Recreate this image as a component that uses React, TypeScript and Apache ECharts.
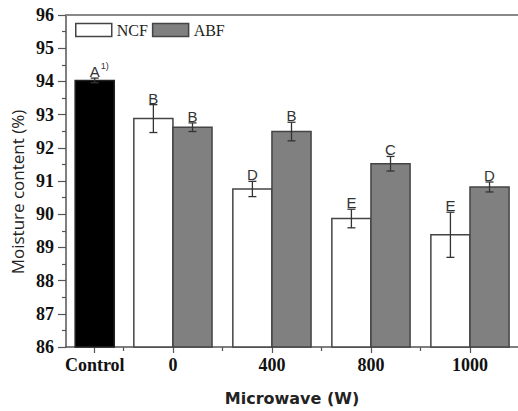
import React, { useEffect, useRef } from "react";
import * as echarts from "echarts";

const categories = ["Control", "0", "400", "800", "1000"];
const controlValues = [94.03];
const controlErrors = [0.07];
const controlLetters = ["A"];
const ncfValues = [92.88, 90.76, 89.87, 89.38];
const ncfErrors = [0.42, 0.23, 0.28, 0.68];
const ncfLetters = ["B", "D", "E", "E"];
const abfValues = [92.62, 92.49, 91.52, 90.82];
const abfErrors = [0.13, 0.28, 0.22, 0.15];
const abfLetters = ["B", "B", "C", "D"];
const yTicks = { min: 86, max: 96, interval: 1 };

// layout: positions of the category slots along the x axis
const catPos = [0.21, 1, 2, 3, 4];
const minorPos = [0.5, 1.5, 2.5, 3.5];
const X_MIN = -0.08;
const X_MAX = 4.485;

function makeRender(shift: number, fill: string, stroke: string, sup: boolean) {
  return (params: any, api: any) => {
    const x = api.value(0);
    const v = api.value(1);
    const e = api.value(2);
    const letter = api.value(3);
    const bw = api.size([1, 0])[0] * 0.395;
    const base = api.coord([x, yTicks.min]);
    const top = api.coord([x, v]);
    const hi = api.coord([x, v + e]);
    const lo = api.coord([x, v - e]);
    const left = base[0] + shift * bw;
    const cx = left + bw / 2;
    const cap = 4;
    const children: any[] = [
      {
        type: "rect",
        shape: { x: left, y: top[1], width: bw, height: base[1] - top[1] },
        style: { fill, stroke, lineWidth: 1.5 },
      },
      {
        type: "line",
        shape: { x1: cx, y1: hi[1], x2: cx, y2: lo[1] },
        style: { stroke: "#333", lineWidth: 1.3 },
      },
      {
        type: "line",
        shape: { x1: cx - cap, y1: hi[1], x2: cx + cap, y2: hi[1] },
        style: { stroke: "#333", lineWidth: 1.3 },
      },
      {
        type: "line",
        shape: { x1: cx - cap, y1: lo[1], x2: cx + cap, y2: lo[1] },
        style: { stroke: "#333", lineWidth: 1.3 },
      },
      {
        type: "text",
        style: {
          text: String(letter),
          x: cx,
          y: hi[1] + 1,
          align: "center",
          verticalAlign: "bottom",
          fill: "#333",
          font: "15px 'Liberation Sans', Arial, sans-serif",
        },
      },
    ];
    if (sup) {
      children.push({
        type: "text",
        style: {
          text: "1)",
          x: cx + 6,
          y: hi[1] - 8,
          align: "left",
          verticalAlign: "bottom",
          fill: "#333",
          font: "9px 'Liberation Sans', Arial, sans-serif",
        },
      });
    }
    return { type: "group", children };
  };
}

export default function App() {
  const ref = useRef<HTMLDivElement>(null);
  useEffect(() => {
    if (!ref.current) return;
    const chart = echarts.init(ref.current, null, { renderer: "svg" });
    const controlData = controlValues.map((v, i) => [catPos[0], v, controlErrors[i], controlLetters[i]]);
    const ncfData = ncfValues.map((v, i) => [catPos[i + 1], v, ncfErrors[i], ncfLetters[i]]);
    const abfData = abfValues.map((v, i) => [catPos[i + 1], v, abfErrors[i], abfLetters[i]]);
    const serif = "'Liberation Serif', 'Times New Roman', serif";
    chart.setOption({
      animation: false,
      backgroundColor: "#fff",
      grid: { left: 66, top: 15, right: 0, bottom: 63 },
      legend: {
        left: 75,
        top: 22,
        itemWidth: 36,
        itemHeight: 13,
        itemGap: 4,
        padding: 0,
        icon: "rect",
        textStyle: { fontFamily: serif, fontSize: 16, color: "#222" },
        data: [
          { name: "NCF", itemStyle: { color: "#fff", borderColor: "#444", borderWidth: 1.5 } },
          { name: "ABF", itemStyle: { color: "#808080", borderColor: "#444", borderWidth: 1.5 } },
        ],
      },
      graphic: [
        {
          type: "text",
          x: 17,
          y: 192,
          rotation: Math.PI / 2,
          style: {
            text: "Moisture content (%)",
            align: "center",
            verticalAlign: "middle",
            fill: "#222",
            font: "17px 'Open Sans', 'Noto Sans', sans-serif",
          },
        },
      ],
      xAxis: [
        {
          type: "value",
          min: X_MIN,
          max: X_MAX,
          position: "bottom",
          name: "Microwave (W)",
          nameLocation: "middle",
          nameGap: 43,
          nameTextStyle: { fontFamily: "'DejaVu Sans', Verdana, sans-serif", fontWeight: "bold", fontSize: 16, color: "#222" },
          axisLine: { show: true, onZero: false, lineStyle: { color: "#555", width: 1.5 } },
          axisTick: { show: true, customValues: catPos, length: 6, lineStyle: { color: "#555", width: 1.2 } },
          axisLabel: {
            customValues: catPos,
            formatter: (v: number) => categories[catPos.indexOf(v)] ?? "",
            fontFamily: serif,
            fontWeight: "bold",
            fontSize: 18,
            color: "#111",
            margin: 9,
          },
          splitLine: { show: false },
        },
        {
          type: "value",
          min: X_MIN,
          max: X_MAX,
          position: "bottom",
          axisLine: { show: false, onZero: false },
          axisTick: { show: true, customValues: minorPos, length: 4, lineStyle: { color: "#555", width: 1.2 } },
          axisLabel: { show: false },
          splitLine: { show: false },
        },
        {
          type: "value",
          min: X_MIN,
          max: X_MAX,
          position: "top",
          axisLine: { show: true, onZero: false, lineStyle: { color: "#888", width: 2 } },
          axisTick: { show: false },
          axisLabel: { show: false },
          splitLine: { show: false },
        },
      ],
      yAxis: {
        type: "value",
        min: yTicks.min,
        max: yTicks.max,
        interval: yTicks.interval,
        axisLine: { show: true, onZero: false, lineStyle: { color: "#555", width: 1.5 } },
        axisTick: { show: true, length: 8, lineStyle: { color: "#555", width: 1.2 } },
        minorTick: { show: true, splitNumber: 2, length: 4, lineStyle: { color: "#555", width: 1.2 } },
        axisLabel: { fontFamily: serif, fontWeight: "bold", fontSize: 18, color: "#111", margin: 12 },
        splitLine: { show: false },
      },
      series: [
        {
          name: "Control",
          type: "custom",
          xAxisIndex: 0,
          renderItem: makeRender(-0.5, "#000", "#222", true),
          data: controlData,
          itemStyle: { color: "#000" },
        },
        {
          name: "NCF",
          type: "custom",
          xAxisIndex: 0,
          renderItem: makeRender(-1, "#fff", "#444", false),
          data: ncfData,
          itemStyle: { color: "#fff", borderColor: "#444" },
        },
        {
          name: "ABF",
          type: "custom",
          xAxisIndex: 0,
          renderItem: makeRender(0, "#808080", "#444", false),
          data: abfData,
          itemStyle: { color: "#808080", borderColor: "#444" },
        },
      ],
    });
    return () => chart.dispose();
  }, []);
  return (
    <div
      ref={ref}
      style={{ position: "fixed", left: 0, top: 0, width: 518, height: 411, background: "#fff" }}
    />
  );
}
